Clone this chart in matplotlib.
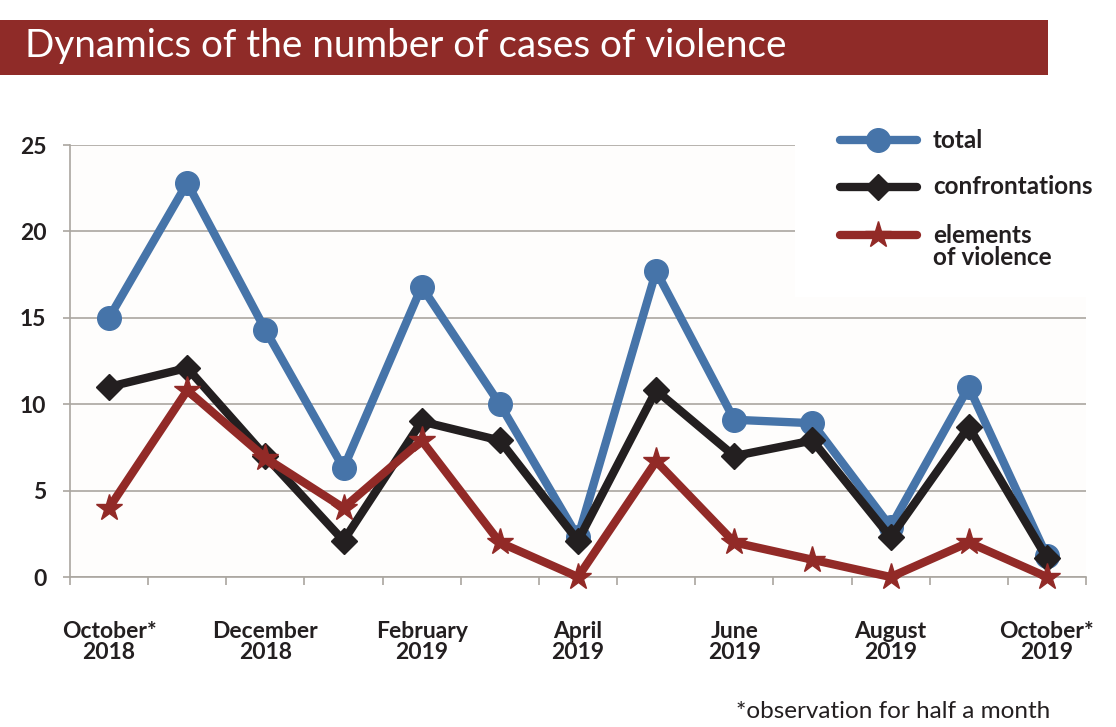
import matplotlib
matplotlib.use("Agg")
import matplotlib.pyplot as plt
from matplotlib.patches import Rectangle
from matplotlib.lines import Line2D

months = ["October*\n2018", "November\n2018", "December\n2018", "January\n2019",
          "February\n2019", "March\n2019", "April\n2019", "May\n2019",
          "June\n2019", "July\n2019", "August\n2019", "September\n2019",
          "October*\n2019"]
total = [15, 22.8, 14.3, 6.3, 16.8, 10, 2.3, 17.7, 9.1, 8.9, 2.9, 11, 1.2]
confrontations = [11, 12.1, 7, 2.1, 9, 7.9, 2.1, 10.8, 7, 7.9, 2.3, 8.7, 1.1]
elements = [4, 10.8, 6.9, 4, 7.9, 2, 0, 6.7, 2, 1, 0, 2, 0]
y_ticks = [0, 5, 10, 15, 20, 25]
legend_labels = ["total", "confrontations", "elements\nof violence"]
title = "Dynamics of the number of cases of violence"
footnote = "*observation for half a month"

BLUE = "#4674a9"
BLACK = "#231f20"
RED = "#922a27"
GRID = "#aaa6a0"
FONT = ["Lato", "DejaVu Sans"]

W, H = 1116, 727
fig = plt.figure(figsize=(W / 100, H / 100), dpi=100)
fig.patch.set_facecolor("white")

def fx(px):
    return px / W

def fy(py):
    return 1 - py / H

ax = fig.add_axes([fx(70), fy(577), fx(1086) - fx(70), fy(145) - fy(577)])
ax.set_facecolor("#fefdfc")
x = list(range(len(months)))

ax.set_xlim(-0.5, len(months) - 0.5)
ax.set_ylim(0, 25)

for s in ["top", "right"]:
    ax.spines[s].set_visible(False)
ax.spines["left"].set_color(GRID)
ax.spines["bottom"].set_color(GRID)
ax.spines["left"].set_linewidth(1.2)
ax.spines["bottom"].set_linewidth(1.2)

ax.set_yticks(y_ticks)
ax.set_yticklabels([str(v) for v in y_ticks], fontsize=16.5, fontweight="bold",
                   family=FONT, color="#231f20")
ax.tick_params(axis="y", length=5, color=GRID, width=1.2, pad=12)
ax.yaxis.grid(True, color=GRID, linewidth=1.2)
ax.set_axisbelow(True)

ax.set_xticks([i - 0.5 for i in range(len(months) + 1)])
ax.set_xticklabels([])
ax.tick_params(axis="x", which="major", length=6, color=GRID, width=1.2)
ax.set_xticks(x[::2], minor=True)
ax.set_xticklabels(months[::2], minor=True, fontsize=16.5, fontweight="bold",
                   family=FONT, color="#231f20", linespacing=1.0)
ax.tick_params(axis="x", which="minor", length=0, pad=32)

lw = 6
ax.plot(x, total, color=BLUE, lw=lw, marker="o", markersize=17,
        clip_on=False, zorder=3, solid_joinstyle="miter")
ax.plot(x, confrontations, color=BLACK, lw=lw, marker="D", markersize=13,
        clip_on=False, zorder=4, solid_joinstyle="miter")
ax.plot(x, elements, color=RED, lw=lw, marker="*", markersize=20,
        clip_on=False, zorder=5, solid_joinstyle="miter")

# legend box
fig.add_artist(Rectangle((fx(795), fy(297)), fx(1105) - fx(795), fy(112) - fy(297),
                         transform=fig.transFigure, facecolor="white",
                         edgecolor="none", zorder=2))
leg = [(BLUE, "o", 17, 140), (BLACK, "D", 13, 187), (RED, "*", 20, 235)]
for (c, m, ms, yy), lab in zip(leg, legend_labels):
    fig.add_artist(Line2D([fx(840), fx(917)], [fy(yy), fy(yy)], color=c, lw=lw,
                          solid_capstyle="round", transform=fig.transFigure, zorder=3))
    fig.add_artist(Line2D([fx(878)], [fy(yy)], color=c, marker=m, markersize=ms,
                          transform=fig.transFigure, zorder=4))
    if "\n" in lab:
        fig.text(fx(933), fy(yy - 11), lab, fontsize=17.5, fontweight="bold", family=FONT,
                 color="#231f20", va="top", ha="left", linespacing=0.95, zorder=5)
    else:
        fig.text(fx(933), fy(yy), lab, fontsize=17.5, fontweight="bold", family=FONT,
                 color="#231f20", va="center", ha="left", zorder=5)

# title bar
fig.add_artist(Rectangle((0, fy(75)), fx(1048), fy(20) - fy(75),
                         transform=fig.transFigure, facecolor="#8f2b28",
                         edgecolor="none", zorder=1))
fig.text(fx(25), fy(46), title, fontsize=27.8, color="white", family=FONT,
         va="center", ha="left", zorder=2)

fig.text(fx(1050), fy(712), footnote, fontsize=17.5, color="#231f20", family=FONT,
         va="center", ha="right")

fig.savefig("out.png", dpi=100)
